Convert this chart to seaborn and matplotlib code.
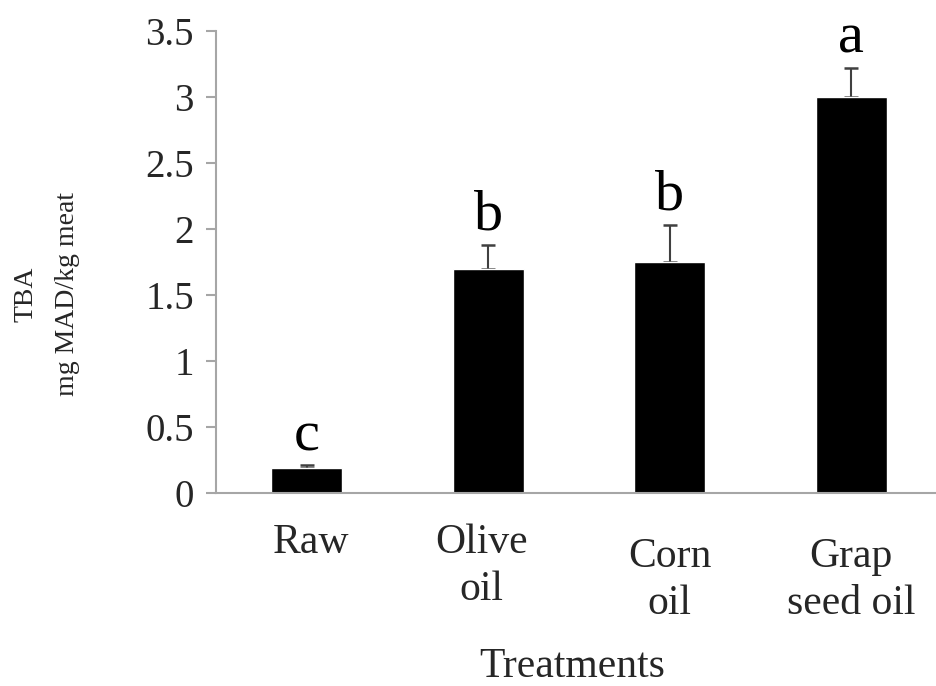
import matplotlib
matplotlib.use("Agg")
import matplotlib.pyplot as plt
import matplotlib.transforms as mtransforms
import seaborn as sns
import pandas as pd
import numpy as np

categories = ["Raw", "Olive\noil", "Corn\noil", "Grap\nseed oil"]
tba_values = [0.19, 1.70, 1.75, 3.00]
tba_errors = [0.02, 0.18, 0.28, 0.22]
sig_letters = ["c", "b", "b", "a"]
y_ticks = [0, 0.5, 1, 1.5, 2, 2.5, 3, 3.5]
y_tick_labels = ["0", "0.5", "1", "1.5", "2", "2.5", "3", "3.5"]

sns.set_style("white")
plt.rcParams["font.family"] = ["Liberation Serif", "DejaVu Serif"]

W, H = 937, 686
fig = plt.figure(figsize=(W / 100, H / 100), dpi=100)
ax_left, ax_right, ax_bottom, ax_top = 216, 937, 493, 31
ax = fig.add_axes([ax_left / W, 1 - ax_bottom / H, (ax_right - ax_left) / W, (ax_bottom - ax_top) / H])

df = pd.DataFrame({"Treatment": categories, "TBA": tba_values})
sns.barplot(data=df, x="Treatment", y="TBA", color="black", width=0.39,
            errorbar=None, ax=ax, saturation=1, zorder=2)

xpos = np.arange(len(categories))
ax.errorbar(xpos, tba_values, yerr=[np.zeros(len(tba_errors)), tba_errors],
            fmt="none", ecolor="#404040", elinewidth=1.5, capsize=5.2, capthick=1.8,
            zorder=1)

for x, v, e, s in zip(xpos, tba_values, tba_errors, sig_letters):
    ax.annotate(s, xy=(x, v + e), xytext=(0, 11), textcoords="offset points",
                ha="center", va="baseline", fontsize=42, color="black")

ax.set_ylim(0, 3.5)
ax.set_xlim(-0.5, -0.5 + (ax_right - ax_left) / 181.5)
ax.set_yticks(y_ticks)
ax.set_yticklabels(y_tick_labels, fontsize=28)
ax.set_xticks(xpos)
ax.set_xticklabels(categories, fontsize=30, linespacing=1.3)
ax.set_xticks(xpos - 0.5, minor=True)
ax.tick_params(axis="x", which="major", length=0, pad=22)
ax.tick_params(axis="x", which="minor", length=11, width=1.5, color="#a6a6a6", direction="out")
ax.tick_params(axis="y", which="major", length=7, width=1.5, color="#a6a6a6", direction="out", pad=9, left=True)

offsets = [(4, 0), (-7, 0), (0, -14), (0, -14)]
for lab, (dx, dy) in zip(ax.get_xticklabels(), offsets):
    off = mtransforms.ScaledTranslation(dx / 100, dy / 100, fig.dpi_scale_trans)
    lab.set_transform(lab.get_transform() + off)

for side in ["top", "right"]:
    ax.spines[side].set_visible(False)
for side in ["left", "bottom"]:
    ax.spines[side].set_color("#a6a6a6")
    ax.spines[side].set_linewidth(1.5)

ax.set_xlabel("")
ax.set_ylabel("")
fig.text(572 / W, 1 - 677 / H, "Treatments", ha="center", va="baseline", fontsize=30)
fig.text(47 / W, 1 - 294 / H, "TBA\nmg MAD/kg meat", ha="center", va="center",
         rotation=90, fontsize=20, linespacing=1.85)

fig.savefig("out.png", dpi=100)
